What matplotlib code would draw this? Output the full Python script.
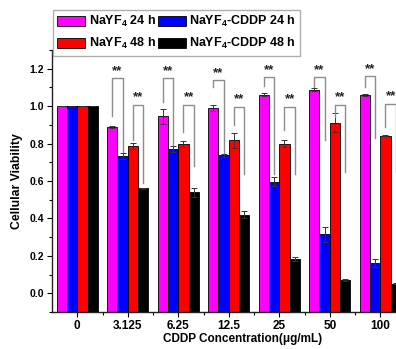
import numpy as np
import matplotlib
matplotlib.use("Agg")
import matplotlib.pyplot as plt
from matplotlib.ticker import MultipleLocator, FixedLocator

plt.rcParams['font.family'] = ['Liberation Sans', 'DejaVu Sans']
plt.rcParams['font.weight'] = 'bold'
plt.rcParams['mathtext.fontset'] = 'custom'
plt.rcParams['mathtext.rm'] = 'Liberation Sans:bold'
plt.rcParams['mathtext.bf'] = 'Liberation Sans:bold'
plt.rcParams['mathtext.default'] = 'rm'

# CDDP concentrations (µg/mL)
concentrations = ['0', '3.125', '6.25', '12.5', '25', '50', '100']

# mean cellular viability
nayf4_24h = [1.00, 0.888, 0.947, 0.990, 1.060, 1.087, 1.059]
cddp_24h = [1.00, 0.733, 0.770, 0.738, 0.597, 0.316, 0.162]
nayf4_48h = [1.00, 0.786, 0.797, 0.818, 0.800, 0.912, 0.842]
cddp_48h = [1.00, 0.561, 0.540, 0.420, 0.182, 0.070, 0.052]

# standard deviations
nayf4_24h_err = [0.0, 0.005, 0.040, 0.015, 0.008, 0.008, 0.005]
cddp_24h_err = [0.0, 0.015, 0.015, 0.008, 0.025, 0.040, 0.020]
nayf4_48h_err = [0.0, 0.015, 0.015, 0.040, 0.020, 0.050, 0.004]
cddp_48h_err = [0.0, 0.004, 0.025, 0.020, 0.010, 0.004, 0.004]

series_labels = [r'NaYF$_4$ 24 h', r'NaYF$_4$-CDDP 24 h',
                 r'NaYF$_4$ 48 h', r'NaYF$_4$-CDDP 48 h']
series_colors = ['#FF00FF', '#0000FF', '#FF0000', '#000000']

Y_MIN, Y_MAX = -0.1, 1.3

fig = plt.figure(figsize=(3.96, 3.49), dpi=100)
# axes run a little past the right edge of the canvas
ax = fig.add_axes([52 / 396, 37 / 349, 353.5 / 396, 262 / 349])

x = np.arange(len(concentrations))
bw = 0.205
offsets = np.array([-1.5, -0.5, 0.5, 1.5]) * bw
values = [nayf4_24h, cddp_24h, nayf4_48h, cddp_48h]
errors = [nayf4_24h_err, cddp_24h_err, nayf4_48h_err, cddp_48h_err]

handles = []
for off, v, e, c, lab in zip(offsets, values, errors, series_colors, series_labels):
    v = np.asarray(v)
    # bars rise from the bottom of the axis frame
    b = ax.bar(x + off, v - Y_MIN, bottom=Y_MIN, width=bw, color=c,
               edgecolor='black', linewidth=0.6, label=lab, zorder=2)
    ax.errorbar(x + off, v, yerr=e, fmt='none', ecolor='#333333', elinewidth=0.7,
                capsize=2, capthick=0.7, zorder=3)
    handles.append(b)

# significance brackets: (top, left-leg end, right-leg end) for each dosed group
br_gray = '#8c8c8c'
upper_top = [1.15, 1.15, 1.14, 1.155, 1.155, 1.16]
upper_left_end = [0.95, 1.02, 1.10, 1.11, 1.10, 1.10]
upper_right_end = [0.754, 0.79, 0.75, 0.64, 0.82, 0.83]
lower_top = [1.005, 1.005, 0.995, 0.995, 1.005, 1.01]
lower_left_end = [0.82, 0.86, 0.90, 0.87, 0.94, 0.89]
lower_right_end = [0.59, 0.68, 0.64, 0.64, 0.647, 0.65]

for i in range(1, len(concentrations)):
    k = i - 1
    xl, xr = i + offsets[0], i + offsets[1]
    ax.plot([xl, xl, xr, xr], [upper_left_end[k], upper_top[k], upper_top[k], upper_right_end[k]],
            color=br_gray, lw=1.0, zorder=4, clip_on=False)
    ax.text((xl + xr) / 2, upper_top[k] + 0.02, '**', ha='center', va='baseline',
            fontsize=9.5, fontweight='bold', color='#222222')
    xl, xr = i + offsets[2], i + offsets[3]
    ax.plot([xl, xl, xr, xr], [lower_left_end[k], lower_top[k], lower_top[k], lower_right_end[k]],
            color=br_gray, lw=1.0, zorder=4, clip_on=False)
    ax.text((xl + xr) / 2, lower_top[k] + 0.025, '**', ha='center', va='baseline',
            fontsize=9.5, fontweight='bold', color='#222222')

ax.set_xlim(-0.5, 6.5)
ax.set_ylim(Y_MIN, Y_MAX)
ax.set_xticks(x)
ax.set_xticklabels(concentrations, fontsize=8.5, fontweight='bold')
ax.xaxis.set_minor_locator(FixedLocator(x[:-1] + 0.5))
ax.yaxis.set_minor_locator(MultipleLocator(0.1))
ax.set_yticks([0.0, 0.2, 0.4, 0.6, 0.8, 1.0, 1.2])
ax.set_yticklabels(['0.0', '0.2', '0.4', '0.6', '0.8', '1.0', '1.2'], fontsize=7.5, fontweight='bold')
ax.tick_params(axis='both', which='major', direction='out', length=3.5, width=0.8, pad=2)
ax.tick_params(axis='both', which='minor', direction='out', length=2, width=0.8)
ax.tick_params(axis='x', which='major', pad=2)

for s in ['top', 'right']:
    ax.spines[s].set_visible(False)
for s in ['left', 'bottom']:
    ax.spines[s].set_linewidth(1.0)
    ax.spines[s].set_color('#222222')

ax.set_ylabel('Cellular Viability', fontsize=8.8, fontweight='bold', labelpad=5)
ax.set_xlabel('CDDP Concentration(\u03bcg/mL)', fontsize=8.5, fontweight='bold')
ax.xaxis.set_label_coords(0.5 + 14 / 353.5, -0.082)

order = [0, 2, 1, 3]
leg = fig.legend([handles[j] for j in order], [series_labels[j] for j in order],
                 loc='upper left', bbox_to_anchor=(53 / 396, 1 - 10 / 349), ncol=2,
                 prop={'weight': 'bold', 'size': 9},
                 frameon=True, fancybox=False, edgecolor='#9a9a9a',
                 handlelength=2.2, handleheight=0.75, handletextpad=0.3,
                 columnspacing=0.2, borderpad=0.35, labelspacing=0.55,
                 borderaxespad=0)
leg.get_frame().set_linewidth(1.0)

fig.savefig('out.png', dpi=100)
